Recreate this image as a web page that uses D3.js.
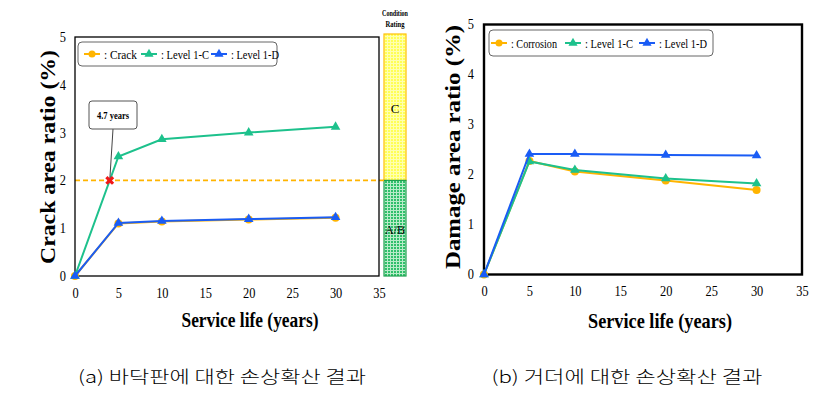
<!DOCTYPE html>
<html><head><meta charset="utf-8">
<script src="https://cdn.jsdelivr.net/npm/d3@7"></script>
<style>body{margin:0;background:#fff}svg{display:block}</style>
</head><body>
<svg id="c" width="830" height="397"></svg>
<script>
// ---- data ----
const years = [0, 5, 10, 20, 30];
const xTicks = [0, 5, 10, 15, 20, 25, 30, 35];
const yTicks = [0, 1, 2, 3, 4, 5];
const slabCrack = [0, 1.10, 1.14, 1.18, 1.22];
const slabLevel1C = [0, 2.50, 2.86, 3.00, 3.12];
const slabLevel1D = [0, 1.11, 1.15, 1.19, 1.23];
const girderCorrosion = [0, 2.27, 2.06, 1.88, 1.69];
const girderLevel1C = [0, 2.26, 2.09, 1.92, 1.82];
const girderLevel1D = [0, 2.41, 2.41, 2.39, 2.38];
const threshold = 2;
const annotationText = "4.7 years";
const ratingLabels = ["C", "A/B"];
const captions = ["(a) 바닥판에 대한 손상확산 결과", "(b) 거더에 대한 손상확산 결과"];

const ORANGE = "#FFB400", GREEN = "#1DC18C", BLUE = "#1A5CF5";
const SERIF = "'Liberation Serif','Times New Roman',serif";

const svg = d3.select("#c");
const defs = svg.append("defs");
function gridPattern(id, bg, line) {
  const p = defs.append("pattern").attr("id", id).attr("patternUnits", "userSpaceOnUse")
    .attr("width", 3).attr("height", 3);
  p.append("rect").attr("width", 3).attr("height", 3).attr("fill", bg);
  p.append("path").attr("d", "M0,0.5H3M0.5,0V3").attr("stroke", line).attr("stroke-width", 1);
}
gridPattern("pY", "#FFFF55", "#FFFFB0");
gridPattern("pG", "#2FBF6A", "#B8EBC8");

function styleTicks(sel) {
  sel.select(".domain").remove();
  sel.attr("font-family", SERIF).attr("font-size", 14);
  sel.selectAll("text").style("font-family", SERIF).style("font-size", "14px")
    .attr("textLength", function () { return this.textContent.length * 6.2; })
    .attr("lengthAdjust", "spacingAndGlyphs").attr("fill", "#000");
}

function drawChart(cfg) {
  const g = svg.append("g");
  const x = d3.scaleLinear().domain([0, 35]).range([cfg.x0, cfg.x1]);
  const y = d3.scaleLinear().domain([0, 5]).range([cfg.y0, cfg.y1]);
  if (cfg.before) cfg.before(g, x, y);
  g.append("rect").attr("x", x(0)).attr("y", y(5)).attr("width", x(35) - x(0)).attr("height", y(0) - y(5))
    .attr("fill", "none").attr("stroke", "#000").attr("stroke-width", cfg.frameW);
  const xa = g.append("g").attr("transform", `translate(0,${y(0)})`)
    .call(d3.axisBottom(x).tickValues(xTicks).tickFormat(d3.format("d")).tickSize(0).tickPadding(12));
  styleTicks(xa);
  const ya = g.append("g").attr("transform", `translate(${x(0)},0)`)
    .call(d3.axisLeft(y).tickValues(yTicks).tickFormat(d3.format("d")).tickSize(0).tickPadding(cfg.yPad));
  styleTicks(ya);
  g.append("text").attr("x", cfg.xtX).attr("y", cfg.xtY).attr("text-anchor", "middle")
    .attr("font-family", SERIF).attr("font-weight", "bold").attr("font-size", 21)
    .attr("textLength", cfg.xtLen).attr("lengthAdjust", "spacingAndGlyphs").text("Service life (years)");
  g.append("text").attr("transform", `translate(${cfg.ytX},${cfg.ytY}) rotate(-90)`).attr("text-anchor", "middle")
    .attr("font-family", SERIF).attr("font-weight", "bold").attr("font-size", 22)
    .attr("textLength", cfg.ytLen).attr("lengthAdjust", "spacingAndGlyphs").text(cfg.ytitle);
  const line = d3.line().x((d, i) => x(years[i])).y(d => y(d));
  cfg.series.forEach(s => {
    g.append("path").datum(s.values).attr("d", line).attr("fill", "none")
      .attr("stroke", s.color).attr("stroke-width", 2);
    const m = g.append("g");
    s.values.forEach((v, i) => {
      if (s.shape === "circle") {
        m.append("circle").attr("cx", x(years[i])).attr("cy", y(v)).attr("r", 4).attr("fill", s.color);
      } else {
        m.append("path").attr("transform", `translate(${x(years[i])},${y(v)})`)
          .attr("d", d3.symbol(d3.symbolTriangle, 40)()).attr("fill", s.color);
      }
    });
  });
  const L = cfg.legend;
  g.append("rect").attr("x", L.x).attr("y", L.y).attr("width", L.w).attr("height", L.h).attr("rx", 4)
    .attr("fill", "#fff").attr("stroke", "#666").attr("stroke-width", 1);
  cfg.series.forEach((s, i) => {
    const lx = L.items[i];
    const cy = L.y + L.h / 2;
    g.append("line").attr("x1", lx).attr("x2", lx + 16).attr("y1", cy).attr("y2", cy)
      .attr("stroke", s.color).attr("stroke-width", 2);
    if (s.legendShape === "circle")
      g.append("circle").attr("cx", lx + 8).attr("cy", cy).attr("r", 3.5).attr("fill", s.color);
    else
      g.append("path").attr("transform", `translate(${lx + 8},${cy})`)
        .attr("d", d3.symbol(d3.symbolTriangle, 36)()).attr("fill", s.color);
    g.append("text").attr("x", lx + 20).attr("y", cy + 4.5).attr("font-family", SERIF).attr("font-size", 13)
      .attr("textLength", L.tl[i]).attr("lengthAdjust", "spacingAndGlyphs").text(": " + s.name);
  });
  if (cfg.after) cfg.after(g, x, y);
}

drawChart({
  x0: 75, x1: 379, y0: 276, y1: 37, frameW: 1.3, yPad: 9,
  xtX: 250, xtY: 327, xtLen: 137,
  ytX: 55, ytY: 157, ytLen: 214, ytitle: "Crack area ratio (%)",
  series: [
    { name: "Crack", values: slabCrack, color: ORANGE, shape: "circle", legendShape: "circle" },
    { name: "Level 1-C", values: slabLevel1C, color: GREEN, shape: "tri", legendShape: "tri" },
    { name: "Level 1-D", values: slabLevel1D, color: BLUE, shape: "tri", legendShape: "tri" }
  ],
  legend: { x: 78, y: 42, w: 199, h: 24, items: [84, 141, 211], tl: [33, 48, 48] },
  before: (g, x, y) => {
    const bx = 384, bw = 22;
    g.append("rect").attr("x", bx).attr("y", y(5) - 3).attr("width", bw).attr("height", y(threshold) - y(5) + 3)
      .attr("fill", "url(#pY)").attr("stroke", "#FFC000").attr("stroke-width", 1.2);
    g.append("rect").attr("x", bx).attr("y", y(threshold)).attr("width", bw).attr("height", y(0) - y(threshold))
      .attr("fill", "url(#pG)").attr("stroke", "#20A050").attr("stroke-width", 1.2);
    g.append("text").attr("x", bx + bw / 2).attr("y", 113).attr("text-anchor", "middle")
      .attr("font-family", SERIF).attr("font-size", 13).text(ratingLabels[0]);
    g.append("text").attr("x", bx + bw / 2).attr("y", 234).attr("text-anchor", "middle")
      .attr("font-family", SERIF).attr("font-size", 13).attr("textLength", 20)
      .attr("lengthAdjust", "spacingAndGlyphs").text(ratingLabels[1]);
    g.append("text").attr("x", bx + bw / 2).attr("y", 16).attr("text-anchor", "middle")
      .attr("font-family", SERIF).attr("font-weight", "bold").attr("font-size", 9)
      .attr("textLength", 26).attr("lengthAdjust", "spacingAndGlyphs").text("Condition");
    g.append("text").attr("x", bx + bw / 2).attr("y", 27).attr("text-anchor", "middle")
      .attr("font-family", SERIF).attr("font-weight", "bold").attr("font-size", 9)
      .attr("textLength", 19).attr("lengthAdjust", "spacingAndGlyphs").text("Rating");
    g.append("line").attr("x1", x(0)).attr("x2", bx).attr("y1", y(threshold)).attr("y2", y(threshold))
      .attr("stroke", ORANGE).attr("stroke-width", 1.6).attr("stroke-dasharray", "5,3");
  },
  after: (g, x, y) => {
    let cx = 0;
    for (let i = 1; i < years.length; i++) {
      if (slabLevel1C[i - 1] < threshold && slabLevel1C[i] >= threshold) {
        const t = (threshold - slabLevel1C[i - 1]) / (slabLevel1C[i] - slabLevel1C[i - 1]);
        cx = years[i - 1] + t * (years[i] - years[i - 1]);
      }
    }
    const px = x(cx), py = y(threshold);
    g.append("line").attr("x1", 113).attr("y1", 129).attr("x2", px).attr("y2", py)
      .attr("stroke", "#444").attr("stroke-width", 1);
    g.append("rect").attr("x", 89).attr("y", 101).attr("width", 48).attr("height", 28).attr("rx", 3)
      .attr("fill", "#fff").attr("stroke", "#555").attr("stroke-width", 1);
    g.append("text").attr("x", 113).attr("y", 119).attr("text-anchor", "middle")
      .attr("font-family", SERIF).attr("font-weight", "bold").attr("font-size", 11)
      .attr("textLength", 32).attr("lengthAdjust", "spacingAndGlyphs").text(annotationText);
    g.append("path").attr("transform", `translate(${px},${py}) rotate(45)`)
      .attr("d", d3.symbol(d3.symbolCross, 50)()).attr("fill", "#F01818");
  }
});

drawChart({
  x0: 484, x1: 802, y0: 274.5, y1: 24.5, frameW: 2.4, yPad: 10,
  xtX: 660, xtY: 328, xtLen: 144,
  ytX: 460, ytY: 147, ytLen: 244, ytitle: "Damage area ratio (%)",
  series: [
    { name: "Corrosion", values: girderCorrosion, color: ORANGE, shape: "circle", legendShape: "circle" },
    { name: "Level 1-C", values: girderLevel1C, color: GREEN, shape: "tri", legendShape: "tri" },
    { name: "Level 1-D", values: girderLevel1D, color: BLUE, shape: "tri", legendShape: "tri" }
  ],
  legend: { x: 489, y: 30, w: 224, h: 26, items: [491, 565, 639], tl: [46, 48, 48] }
});

svg.append("text").attr("x", 222).attr("y", 383).attr("text-anchor", "middle")
  .attr("font-family", "'Noto Sans CJK KR',sans-serif").attr("font-weight", 300).attr("font-size", 17)
  .attr("textLength", 288).attr("lengthAdjust", "spacingAndGlyphs").text(captions[0]);
svg.append("text").attr("x", 627).attr("y", 383).attr("text-anchor", "middle")
  .attr("font-family", "'Noto Sans CJK KR',sans-serif").attr("font-weight", 300).attr("font-size", 17)
  .attr("textLength", 271).attr("lengthAdjust", "spacingAndGlyphs").text(captions[1]);
</script>
</body></html>
